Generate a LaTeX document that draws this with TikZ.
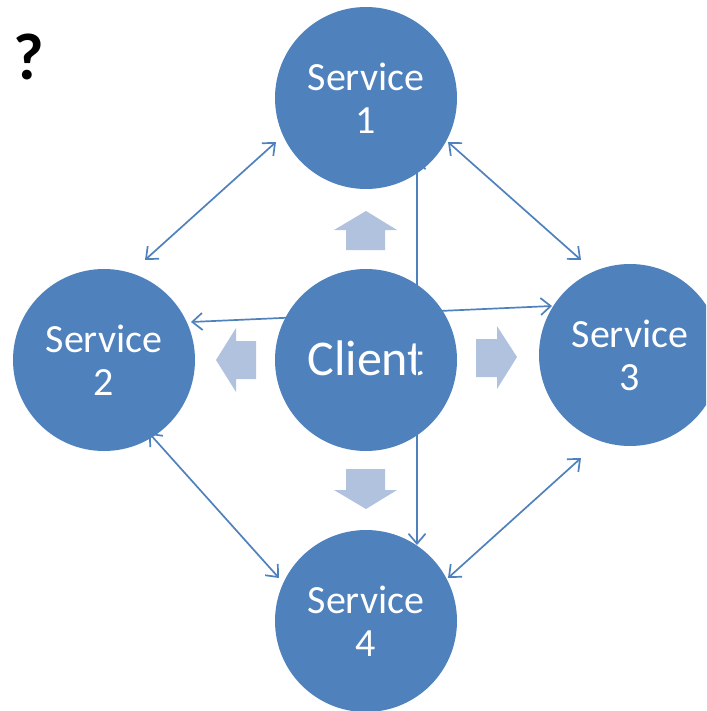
\documentclass[tikz,border=0pt]{standalone}
\usepackage{fontspec}
\setmainfont{Carlito}
\usetikzlibrary{arrows.meta}
\definecolor{obl}{HTML}{4F81BD}
\definecolor{lbl}{HTML}{B0C2DE}
\begin{document}
\begin{tikzpicture}[x=1pt,y=-1pt,
  svc/.style={circle,fill=obl,minimum size=182pt,inner sep=0pt,text=white,align=center,font=\fontsize{40}{43}\selectfont},
  link/.style={draw=obl,line width=1.7pt,{Straight Barb[length=10pt,width=17pt]}-{Straight Barb[length=10pt,width=17pt]}},
  blk/.style={fill=lbl,draw=none}]
\useasboundingbox (0,0) rectangle (706,711);
\clip (0,0) rectangle (706,711);
\node[svc] (s1) at (366,98) {Service\\1};
\node[svc] (s2) at (104,360) {Service\\2};
\node[svc] (cl) at (366,360) {};
\node[text=white,font=\fontsize{50}{55}\selectfont] (clt) at (366,358) {Client};
\node[svc] (s3) at (630,355) {Service\\3};
\node[svc] (s4) at (366,621) {Service\\4};
\node[font=\fontsize{66}{68}\selectfont\bfseries] (q) at (29,57) {?};
% block arrows
\fill[blk] (366,211) -- (397,230) -- (385,230) -- (385,250) -- (346,250) -- (346,230) -- (334,230) -- cycle;
\fill[blk] (366,509) -- (397,490) -- (385,490) -- (385,469) -- (346,469) -- (346,490) -- (334,490) -- cycle;
\fill[blk] (216,360) -- (236,328) -- (236,341) -- (256,341) -- (256,379) -- (236,379) -- (236,392) -- cycle;
\fill[blk] (517,357) -- (497,326) -- (497,339) -- (476,339) -- (476,377) -- (497,377) -- (497,389) -- cycle;
% connector end points
\coordinate (a1) at (276,142); \coordinate (a2) at (145,260);
\coordinate (b1) at (448,142); \coordinate (b3) at (581,260);
\coordinate (c2) at (191,322); \coordinate (c3) at (552,306);
\coordinate (d1) at (417,158); \coordinate (d4) at (417,545);
\coordinate (e2) at (149,433); \coordinate (e4) at (279,578);
\coordinate (f3) at (581,458); \coordinate (f4) at (448,578);
\draw[link] (a1) -- (a2);
\draw[link] (b1) -- (b3);
\draw[link] (c2) -- (c3);
\draw[link] (d1) -- (d4);
\draw[link] (e2) -- (e4);
\draw[link] (f3) -- (f4);
\end{tikzpicture}
\end{document}
